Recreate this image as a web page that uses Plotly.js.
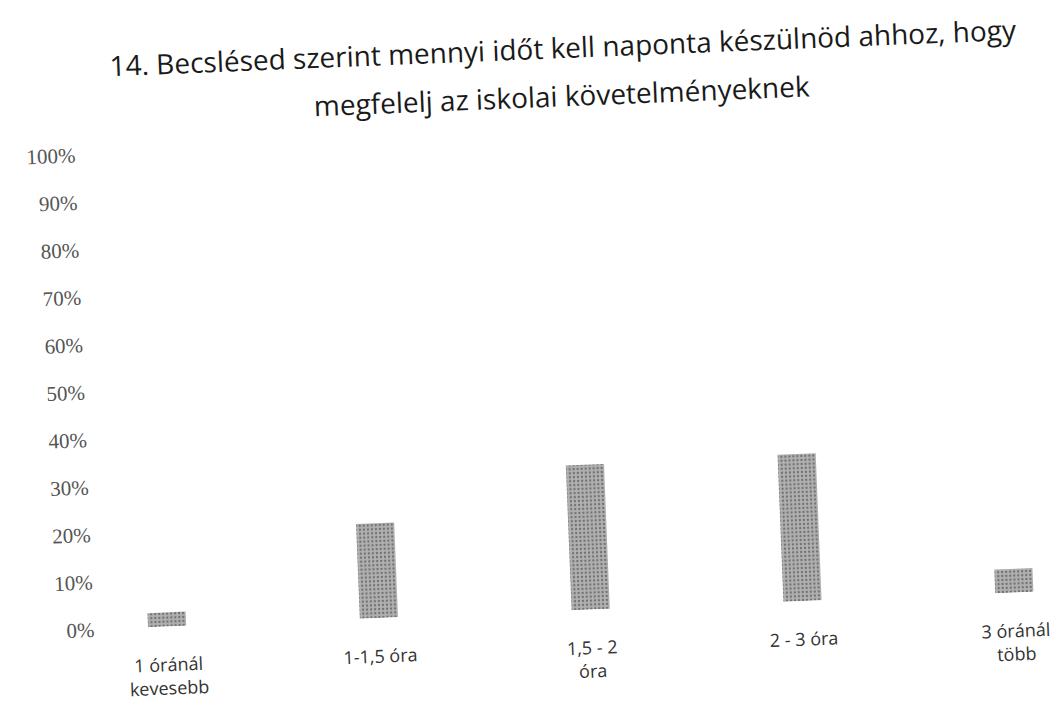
<!DOCTYPE html>
<html>
<head>
<meta charset="utf-8">
<script src="https://cdn.plot.ly/plotly-3.0.1.min.js"></script>
<style>
html,body{margin:0;padding:0;background:#fff;overflow:hidden;}
#chart{width:1051px;height:709px;transform:rotate(-2.3deg);transform-origin:50% 50%;}
</style>
</head>
<body>
<div id="chart"></div>
<script>
const titleLine1 = "14. Becslésed szerint mennyi időt kell naponta készülnöd ahhoz, hogy";
const titleLine2 = "megfelelj az iskolai követelményeknek";
const categories = ["1 óránál<br>kevesebb", "1-1,5 óra", "1,5 - 2<br>óra", "2 - 3 óra", "3 óránál<br>több"];
const values = [3, 20, 30.5, 31, 5];
const yTickVals = [0, 10, 20, 30, 40, 50, 60, 70, 80, 90, 100];
const yTickText = ["0%", "10%", "20%", "30%", "40%", "50%", "60%", "70%", "80%", "90%", "100%"];

const W = 1051, H = 709, ML = 95, MT = 137, MB = 97;
const plotH = H - MT - MB;

const trace = {
  type: 'bar',
  x: categories,
  y: values,
  width: 0.18,
  marker: {
    color: '#a6a6a6',
    line: {width: 0},
    pattern: {shape: '.', fgcolor: '#6e6e6e', bgcolor: '#b0b0b0', size: 4, solidity: 0.25}
  },
  hoverinfo: 'none'
};

const layout = {
  width: W,
  height: H,
  paper_bgcolor: '#ffffff',
  plot_bgcolor: '#ffffff',
  margin: {l: ML, r: 0, t: MT, b: MB},
  showlegend: false,
  title: {
    text: titleLine1,
    font: {family: 'Open Sans, sans-serif', size: 28, color: '#1a1a1a'},
    x: 575 / W, xref: 'container', xanchor: 'center',
    y: 1 - 50 / H, yref: 'container', yanchor: 'middle'
  },
  annotations: [{
    text: titleLine2,
    xref: 'paper', yref: 'paper',
    x: (572 - ML) / (W - ML), xanchor: 'center',
    y: (H - MB - 97) / plotH, yanchor: 'middle',
    showarrow: false,
    font: {family: 'Open Sans, sans-serif', size: 28, color: '#1a1a1a'}
  }],
  xaxis: {
    type: 'category',
    range: [-0.29, 4.22],
    showgrid: false, zeroline: false, showline: false,
    ticks: 'outside', ticklen: 22, tickcolor: 'rgba(0,0,0,0)',
    tickfont: {family: 'Open Sans, sans-serif', size: 18, color: '#333333'},
    fixedrange: true
  },
  yaxis: {
    range: [0, 100],
    tickvals: yTickVals,
    ticktext: yTickText,
    showgrid: false, zeroline: false, showline: false,
    ticks: 'outside', ticklen: 6, tickcolor: 'rgba(0,0,0,0)',
    tickfont: {family: 'Liberation Serif, serif', size: 21, color: '#555555'},
    fixedrange: true
  }
};

Plotly.newPlot('chart', [trace], layout, {displayModeBar: false, staticPlot: true});
</script>
</body>
</html>
